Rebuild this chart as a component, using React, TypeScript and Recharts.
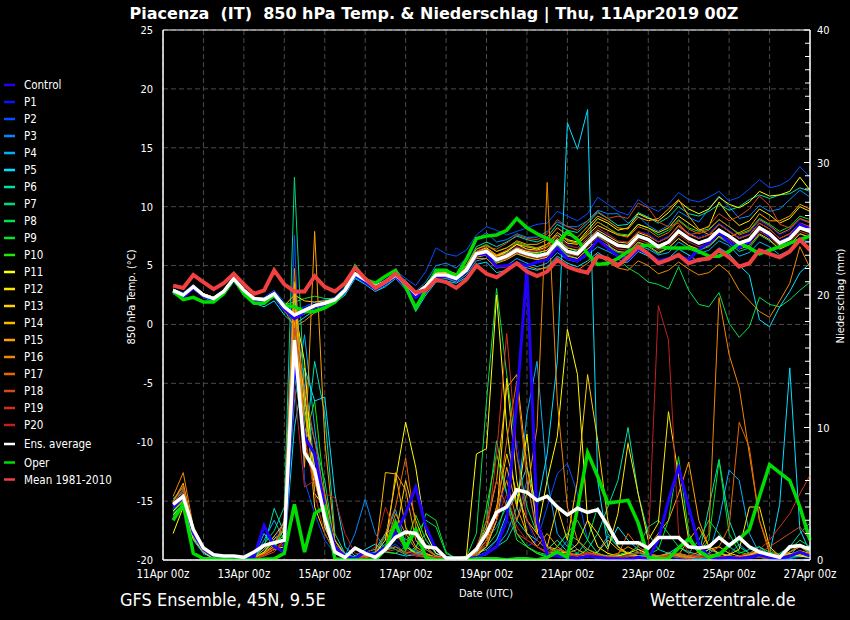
import React from 'react';
import { LineChart, Line, XAxis, YAxis, CartesianGrid, ReferenceArea } from 'recharts';

// 6-hourly steps from 11Apr 06z to 27Apr 00z (hours since 11Apr 00z)
const HOURS: number[] = Array.from({ length: 64 }, (_, i) => (i + 1) * 6);
const X_TICKS = [0, 24, 48, 72, 96, 120, 144, 168, 192, 216, 240, 264, 288, 312, 336, 360, 384];
const X_LABELS = ['11Apr 00z', '13Apr 00z', '15Apr 00z', '17Apr 00z', '19Apr 00z', '21Apr 00z', '23Apr 00z', '25Apr 00z', '27Apr 00z'];
const T_TICKS = [-20, -15, -10, -5, 0, 5, 10, 15, 20, 25];
const P_TICKS = Array.from({ length: 41 }, (_, i) => i);

// ---------- 850 hPa temperature (°C) ----------
const tMean = [3.3,3.1,4.2,3.6, 3.0,3.5,4.3,3.4, 2.6,2.9,4.6,3.4, 2.8,2.8,4.1,3.2, 2.8,3.5,4.8,3.9, 3.1,3.6,4.3,3.5, 2.7,2.9,3.8,3.6, 3.1,3.8,5.0,4.3, 4.0,4.6,5.2,4.5, 4.1,4.5,5.5,4.9, 4.6,4.4,5.8,5.6, 5.0,5.7,6.6,6.0, 5.2,5.5,5.9,5.2, 5.5,5.6,6.3,5.7, 4.9,5.2,6.3,6.0, 5.7,6.2,7.2,6.3];
const tAvg = [2.9,2.5,3.2,2.5, 2.2,2.8,3.9,2.9, 2.2,2.1,2.6,1.5, 0.8,1.2,1.6,1.8, 2.1,2.9,4.3,3.8, 3.2,3.6,4.2,3.5, 2.6,3.2,4.2,4.2, 3.9,4.6,6.0,6.2, 5.5,5.8,6.3,6.0, 5.8,6.0,7.0,6.2, 6.0,6.9,7.7,7.2, 6.7,6.6,7.5,7.2, 6.6,7.0,7.9,7.3, 6.9,7.2,8.0,7.5, 6.9,7.2,8.2,7.7, 6.9,7.3,8.2,7.9];
const tOper = [2.8,2.1,2.3,1.9, 1.9,2.6,3.9,2.6, 1.8,1.8,2.5,1.6, 1.5,1.1,1.1,1.4, 1.9,2.9,4.9,3.8, 3.5,4.1,4.6,3.2, 1.4,2.9,4.6,4.6, 4.1,5.5,7.3,7.5, 7.6,8.0,9.0,8.2, 7.7,7.3,6.8,7.9, 7.2,6.0,5.1,5.2, 5.6,6.2,6.6,6.75, 6.6,6.5,6.5,6.5, 6.2,5.8,5.8,6.2, 6.9,6.5,6.0,6.3, 6.6,6.9,7.2,7.5];
const tControl = [2.7,2.3,3.1,2.4, 2.1,2.7,3.8,2.7, 2.0,1.9,2.5,1.3, 0.5,1.0,1.5,1.7, 2.0,2.8,4.2,3.6, 3.0,3.5,4.1,3.2, 2.3,3.0,4.0,4.1, 3.8,4.5,5.9,6.0, 4.9,5.0,5.2,5.0, 5.3,5.5,6.5,5.6, 5.4,6.0,7.2,6.5, 5.8,5.5,6.4,6.0, 5.4,5.6,5.8,5.5, 6.4,6.9,7.8,7.0, 6.5,7.0,8.2,7.5, 7.0,7.4,8.5,8.1];
const tP1 = [3.0,2.6,3.3,2.6, 2.3,2.9,4.0,3.0, 2.3,2.2,2.8,1.7, 1.0,1.4,1.9,2.0, 2.2,3.0,4.4,3.9, 3.3,3.7,4.3,3.6, 2.7,3.3,4.4,4.5, 4.2,4.9,6.2,6.4, 5.8,6.1,6.6,6.4, 6.2,6.5,7.4,6.8, 6.5,7.2,8.0,7.6, 7.0,7.0,7.9,7.7, 7.1,7.5,8.3,7.8, 7.4,7.8,8.6,8.0, 7.4,7.7,8.8,8.3, 7.6,8.0,8.9,8.6];
const tP2 = [3.0,2.7,3.4,2.6, 2.3,2.9,4.1,3.0, 2.2,2.3,2.9,1.9, 1.2,1.5,1.9,2.1, 2.3,3.2,4.6,4.0, 3.4,4.0,4.6,3.9, 3.3,4.5,6.5,6.0, 5.8,6.3,7.6,8.3, 8.0,7.6,7.9,8.2, 8.5,8.6,9.6,9.2, 8.8,9.4,10.8,10.2, 9.6,9.3,10.6,10.0, 9.6,10.2,11.2,10.6, 10.4,10.8,11.3,10.5, 10.8,11.5,12.3,11.6, 11.8,12.3,13.4,12.5];
const tP3 = [2.8,2.5,3.3,2.6, 2.3,2.9,4.0,2.9, 2.2,2.2,2.7,1.6, 0.9,1.3,1.7,1.9, 2.2,3.0,4.4,3.9, 3.3,3.8,4.4,3.7, 2.8,3.6,5.0,5.2, 4.8,5.6,7.2,7.8, 7.0,7.2,7.7,7.4, 7.4,7.9,8.7,8.3, 8.3,8.8,9.7,9.4, 9.4,8.6,9.2,8.4, 7.9,8.4,9.6,9.1, 8.7,9.8,10.9,10.0, 9.0,9.2,10.1,9.6, 9.8,10.6,11.4,10.8];
const tP4 = [2.8,2.4,3.1,2.4, 2.0,2.6,3.7,2.7, 1.9,1.8,2.3,1.1, 0.4,0.9,1.4,1.6, 1.9,2.6,4.0,3.5, 2.9,3.3,4.0,3.2, 1.6,2.7,3.8,3.9, 3.6,4.2,5.4,5.6, 4.8,5.0,5.6,5.2, 4.9,5.2,6.1,5.5, 5.3,5.9,6.6,6.2, 5.8,5.8,6.7,6.4, 5.9,6.1,7.0,6.5, 6.0,6.3,7.1,6.7, 5.8,6.1,7.0,6.6, 5.9,6.3,7.2,7.0];
const tP5 = [2.6,2.3,3.0,2.3, 1.9,2.5,3.6,2.6, 1.8,1.5,2.0,0.8, 0.0,0.6,1.2,1.5, 1.8,2.5,3.9,3.4, 2.8,3.2,3.9,3.0, 1.1,2.5,3.6,3.7, 3.5,4.0,5.1,5.3, 4.4,4.6,5.1,4.8, 4.6,4.9,5.8,5.2, 4.9,5.4,6.1,5.6, 5.2,5.3,6.2,5.8, 5.1,5.6,6.4,5.9, 5.3,5.7,6.5,6.0, 5.0,4.2,0.4,-0.2, 1.5,2.8,4.4,5.2];
const tP6 = [2.9,2.6,3.3,2.6, 2.3,2.9,4.0,3.0, 2.3,2.2,2.7,1.6, 0.9,1.3,1.7,1.9, 2.2,3.0,4.4,3.9, 3.3,3.7,4.3,3.6, 2.7,3.3,4.5,4.6, 4.3,5.0,6.6,7.0, 6.6,7.0,7.5,7.2, 7.0,7.4,8.5,8.0, 7.8,8.6,9.5,9.0, 8.4,8.5,9.5,9.1, 8.6,9.1,10.0,9.4, 9.2,9.6,10.2,9.7, 10.0,10.6,11.0,10.7, 11.0,11.1,11.6,11.3];
const tP7 = [2.8,2.4,3.1,2.4, 2.1,2.7,3.8,2.8, 2.1,2.0,2.5,1.4, 0.6,1.0,1.5,1.7, 2.0,2.8,4.2,3.7, 3.1,3.5,4.1,3.4, 2.5,3.1,4.1,4.1, 3.8,4.4,5.8,6.0, 5.3,5.6,6.0,5.7, 5.5,5.7,6.7,5.9, 5.6,6.4,7.1,6.6, 6.1,6.0,6.9,6.6, 6.0,6.5,7.3,6.7, 6.3,6.6,7.4,6.9, 6.2,6.5,7.6,7.1, 6.4,6.8,7.7,7.4];
const tP8 = [2.9,2.5,3.2,2.5, 2.2,2.8,3.9,2.9, 2.2,2.1,2.6,1.5, 0.8,1.2,1.6,1.8, 2.1,2.9,4.3,3.8, 3.2,3.6,4.2,3.5, 2.6,3.2,4.2,4.2, 3.9,4.6,6.0,6.3, 5.8,6.1,6.5,6.2, 6.0,6.3,7.2,6.5, 6.2,6.8,7.5,6.9, 5.6,4.8,4.3,3.6, 3.4,3.0,4.9,2.9, 1.7,1.5,2.7,0.1, -1.1,-0.2,2.3,1.7, 1.5,2.1,2.9,3.6];
const tP9 = [3.0,2.6,3.3,2.6, 2.3,2.9,4.0,3.0, 2.3,2.2,2.7,1.7, 1.9,2.2,2.4,2.2, 2.2,3.0,4.4,3.9, 3.3,3.7,4.3,3.6, 2.7,3.4,4.5,4.5, 4.2,4.9,6.4,6.8, 6.2,6.5,7.0,6.7, 6.5,6.8,7.8,7.1, 6.9,7.8,8.7,8.2, 7.7,7.6,8.5,8.2, 7.6,8.0,8.9,8.2, 7.9,8.1,8.9,8.3, 7.7,8.0,9.0,8.5, 7.9,8.3,9.2,8.9];
const tP10 = [2.9,2.5,3.2,2.5, 2.2,2.8,3.9,2.9, 2.2,2.1,2.6,1.5, 0.8,1.1,1.6,1.8, 2.1,2.9,4.3,3.8, 3.2,3.6,4.2,3.5, 2.6,3.2,4.2,4.2, 3.9,4.6,6.0,6.2, 5.6,5.9,6.4,6.0, 5.9,6.1,7.1,6.3, 6.1,7.0,7.8,7.3, 6.8,6.7,7.6,7.3, 6.7,7.1,8.0,7.4, 7.0,7.3,8.1,7.6, 7.0,7.3,8.3,7.8, 7.0,7.4,8.3,8.0];
const tP11 = [2.9,2.6,3.3,2.6, 2.3,2.9,4.0,3.0, 2.3,2.2,2.7,1.6, 0.9,1.3,1.7,1.9, 2.2,3.0,4.4,3.9, 3.3,3.7,4.3,3.6, 2.7,3.3,4.3,4.4, 4.1,4.8,6.2,6.5, 5.9,6.2,6.8,6.6, 6.4,6.8,7.8,7.2, 7.0,8.0,9.0,8.6, 8.0,8.2,9.4,9.0, 8.8,9.5,10.5,9.8, 9.4,9.8,10.8,10.2, 9.9,10.4,11.3,10.9, 11.0,11.3,12.5,11.4];
const tP12 = [2.8,2.5,3.2,2.5, 2.2,2.8,3.9,2.9, 2.2,2.1,2.6,1.5, 0.8,1.2,1.6,1.8, 2.1,2.9,4.3,3.8, 3.2,3.6,4.2,3.5, 2.6,3.2,4.2,4.2, 3.9,4.6,6.0,6.2, 5.8,6.2,6.8,6.4, 6.3,6.6,7.6,6.9, 6.8,7.6,8.4,8.0, 7.6,7.5,8.5,8.2, 7.8,8.2,9.2,8.6, 8.0,8.3,10.4,9.2, 8.4,8.8,9.8,9.3, 8.6,9.0,10.0,9.6];
const tP13 = [3.0,2.6,3.3,2.6, 2.3,2.9,4.0,3.0, 2.3,2.2,2.7,1.6, 2.5,2.0,1.9,2.0, 2.2,3.0,4.4,3.9, 3.3,3.7,4.3,3.6, 2.7,3.3,4.4,4.4, 4.1,4.8,6.1,6.4, 5.8,6.0,6.5,6.2, 6.1,6.3,7.3,6.5, 6.3,7.2,8.0,7.5, 7.0,6.9,7.8,7.5, 7.0,7.4,8.4,7.7, 7.3,7.6,8.5,7.9, 7.3,7.6,8.6,8.1, 7.3,7.7,8.6,8.3];
const tP14 = [2.8,2.4,3.1,2.4, 2.1,2.7,3.8,2.8, 2.1,2.0,2.5,1.3, 0.5,0.9,1.4,1.7, 2.0,2.8,4.2,3.7, 3.1,3.5,4.1,3.4, 2.5,3.0,4.0,4.0, 3.7,4.4,5.7,5.9, 5.2,5.5,6.0,5.7, 5.5,5.7,6.6,5.8, 5.6,6.4,7.2,6.7, 6.2,6.1,7.0,6.7, 6.1,6.5,7.3,6.7, 6.4,6.7,7.5,7.0, 6.4,6.7,7.7,7.2, 6.4,6.8,7.7,7.4];
const tP15 = [2.9,2.5,3.3,2.6, 2.3,2.9,4.0,3.0, 2.3,2.2,2.7,1.6, 0.7,1.1,1.6,1.8, 2.1,2.9,4.3,3.8, 3.2,3.6,4.3,3.6, 2.7,3.4,4.5,4.6, 4.3,5.0,6.4,6.7, 6.2,6.5,7.1,6.8, 6.8,7.2,8.2,7.6, 7.4,8.3,9.2,8.8, 8.2,8.1,9.1,8.8, 9.0,9.8,10.6,9.2, 8.1,7.6,8.0,7.4, 7.8,8.2,9.4,8.8, 8.8,9.2,10.2,9.8];
const tP16 = [2.8,2.4,3.1,2.4, 2.1,2.7,3.8,2.8, 2.1,2.0,2.5,1.2, -0.2,0.3,1.0,1.4, 2.0,2.8,4.2,3.7, 3.1,3.5,4.1,3.4, 2.5,3.1,4.1,4.1, 3.8,4.5,5.6,5.6, 4.8,4.9,5.3,5.0, 4.7,4.8,5.6,4.9, 4.6,5.2,5.9,5.3, 4.8,4.6,5.4,5.0, 4.3,4.6,5.3,4.7, 4.2,4.4,5.1,4.4, 2.9,2.0,1.1,0.6, 2.0,3.5,6.6,4.8];
const tP17 = [2.9,2.5,3.2,2.5, 2.2,2.8,3.9,2.9, 2.2,2.1,2.6,1.4, 0.6,1.0,1.5,1.7, 2.1,2.9,4.3,3.8, 3.2,3.6,4.2,3.5, 2.6,3.2,4.3,4.3, 4.0,4.7,6.1,6.4, 5.9,6.3,6.9,6.6, 6.5,6.8,7.8,7.1, 6.9,7.8,8.7,8.2, 7.6,7.4,8.3,8.0, 7.4,7.8,8.8,8.1, 7.7,8.0,8.9,8.3, 7.6,7.9,8.9,8.4, 7.7,8.1,9.0,8.7];
const tP18 = [2.9,2.5,3.2,2.5, 2.2,2.8,3.9,2.9, 2.2,2.1,2.6,1.5, 0.8,1.2,1.6,1.8, 2.1,2.9,4.3,3.8, 3.2,3.6,4.2,3.5, 2.6,3.2,4.2,4.3, 4.0,4.7,6.2,6.6, 6.4,6.9,7.6,7.3, 7.2,7.7,8.9,8.3, 8.0,8.8,9.6,9.0, 9.2,9.0,10.3,9.9, 8.7,8.3,8.6,7.6, 7.8,8.4,9.4,8.8, 9.2,9.8,10.9,10.1, 8.5,8.2,9.0,8.6];
const tP19 = [2.8,2.5,3.2,2.5, 2.2,2.8,3.9,2.9, 2.1,2.0,2.5,1.4, 0.7,1.1,1.5,1.7, 2.0,2.8,4.2,3.7, 3.1,3.5,4.1,3.4, 2.5,3.1,4.1,4.1, 3.8,4.5,5.8,6.0, 5.4,5.6,6.1,5.8, 5.6,5.8,6.8,6.0, 5.8,6.6,7.4,6.9, 6.4,6.3,7.2,6.9, 6.3,6.7,7.6,7.0, 6.6,6.9,7.7,7.2, 6.6,6.9,7.9,7.4, 6.6,7.0,7.9,7.6];
const tP20 = [2.9,2.6,3.3,2.6, 2.3,2.9,4.0,3.0, 2.3,2.2,2.7,1.6, 0.9,1.3,1.7,1.9, 2.2,3.0,4.4,3.9, 3.3,3.7,4.3,3.6, 2.7,3.3,4.3,4.3, 4.0,4.7,6.1,6.3, 5.7,6.0,6.6,6.3, 6.2,6.5,7.5,6.7, 6.5,7.4,8.2,7.7, 7.1,7.0,7.9,7.6, 7.0,7.4,8.3,7.6, 7.3,7.6,8.5,7.9, 7.3,7.6,8.6,8.1, 7.3,7.7,8.6,8.3];

// ---------- Niederschlag (mm / 6h) ----------
const pAvg = [4.2,4.8,2.3,0.9, 0.4,0.3,0.3,0.2, 0.6,1.1,1.3,1.5, 16.6,8.1,6.8,3.2, 0.6,0.2,0.9,0.5, 0.2,0.8,1.7,2.1, 2.0,1.0,0.9,0.15, 0.15,0.15,0.8,2.0, 3.6,4.0,5.3,5.1, 4.5,4.8,4.0,3.4, 3.9,3.6,3.8,2.6, 1.3,1.3,1.3,0.9, 1.7,1.7,1.7,1.0, 0.9,1.0,1.7,1.1, 1.7,1.0,0.6,0.4, 0.2,1.0,1.1,0.8];
const pOper = [3.0,4.2,0.5,0.1, 0.1,0.05,0,0, 0,0.05,0.1,0.5, 4.2,0.6,3.5,4.0, 0.1,0,0,0, 0,0.8,2.8,0.9, 2.3,0.2,0,0, 0,0,0.1,0.1, 0.1,0,0.1,0.1, 0,0.2,0.6,0.2, 3.9,8.1,6.3,4.3, 4.4,4.5,2.8,0.2, 0.1,0.1,0.9,1.6, 0.7,0.2,0.4,1.1, 1.6,2.3,4.8,7.2, 6.6,6.0,4.0,1.5];
const pControl = [4.0,4.8,2.0,0.8, 0.3,0.1,0.1,0.1, 0.2,2.6,1.0,0.6, 15.0,9.3,8.0,4.0, 1.0,0.3,0.1,0.6, 0.4,1.0,2.0,3.5, 5.5,2.5,0.8,0.2, 0.1,0.1,0.2,0.5, 1.0,3.0,12.0,22.0, 3.0,0.4,0.3,0.2, 0.1,0.3,0.2,0.1, 0.1,0,0.2,0.1, 1.5,4.5,7.0,4.0, 1.2,0.2,0.1,0.2, 0.1,0.2,0.4,0.2, 0.1,0.3,0.6,0.3];
const pP1 = [4.2,5.0,2.2,0.9, 0.3,0.1,0,0.1, 0.1,0.8,1.5,3.0, 18.0,12.0,6.0,3.0, 1.0,0.2,0.1,0.3, 0.5,1.0,1.5,0.8, 1.5,0.5,0.2,0.1, 0,0.1,0.4,1.0, 3.0,6.0,9.0,3.0, 1.0,0.5,0.3,0.1, 0.2,0.5,0.3,0.1, 0,0.1,0.3,0.2, 0.1,0.2,0.1,0, 0.2,0.5,0.3,0.1, 0,0.1,0.2,0.1, 0,0.1,0.2,0.1];
const pP2 = [4.5,5.3,2.0,0.7, 0.2,0.1,0.1,0, 0.2,0.5,1.0,2.5, 24.5,6.0,3.5,1.5, 0.5,0.2,0.1,0.4, 0.6,0.8,1.2,0.5, 0.8,1.6,0.4,0.1, 0,0.1,0.3,0.6, 1.5,3.0,2.0,1.0, 1.5,4.0,6.5,7.3, 5.0,1.5,0.5,0.2, 0.1,0.2,0.5,0.3, 0.1,0.3,0.2,0.1, 0,0.2,0.1,0, 0.1,0.3,0.2,0.1, 0,0.2,0.4,0.3];
const pP3 = [3.8,4.6,1.8,0.8, 0.2,0.1,0,0, 0.1,0.6,1.8,1.0, 16.0,14.0,7.0,2.5, 0.8,0.3,2.0,4.6, 2.0,0.8,1.0,0.5, 0.7,0.3,0.1,0, 0,0.2,0.6,1.5, 2.5,4.0,3.0,6.0, 2.0,1.0,0.5,1.5, 0.8,0.3,0.1,0.2, 0.3,0.5,0.2,0.1, 0.1,0.6,0.3,0.1, 0,0.1,0.2,0.4, 1.2,0.5,0.2,0.1, 0,0.1,0.3,0.2];
const pP4 = [3.5,4.2,1.7,0.6, 0.2,0,0,0.1, 0.2,1.5,3.0,1.5, 12.0,17.0,10.0,4.0, 1.5,0.5,0.2,0.2, 0.5,1.8,3.8,1.2, 0.5,0.8,0.3,0.1, 0,0.1,0.3,0.5, 1.0,2.0,4.0,11.0, 15.0,6.0,2.0,1.0, 0.5,0.2,0.6,1.8, 1.0,0.4,0.2,0.1, 0.1,0.2,0.5,0.3, 0.2,0.5,3.0,6.8, 6.0,2.0,0.5,0.2, 0.1,0.3,1.2,0.5];
const pP5 = [3.3,4.0,1.5,0.5, 0.1,0,0,0.1, 0.3,2.0,1.0,0.5, 10.0,14.5,12.0,12.3, 5.0,1.0,0.3,0.8, 1.2,0.6,0.5,0.3, 0.4,0.2,0.1,0, 0,0.2,0.5,0.8, 1.5,3.5,5.0,7.0, 4.0,8.0,15.0,33.0, 31.0,34.0,6.0,1.0, 2.5,1.5,0.8,0.5, 0.3,0.5,1.0,0.6, 0.4,0.8,0.5,0.3, 0.2,0.5,1.0,0.4, 4.2,14.5,2.3,0.6];
const pP6 = [4.6,5.5,2.4,1.0, 0.3,0.1,0,0, 0.2,1.0,3.9,2.0, 20.0,8.0,15.0,11.0, 2.0,0.5,0.2,0.6, 0.8,2.0,2.5,1.0, 0.6,0.4,0.2,0.1, 0,0.1,0.2,0.4, 1.0,1.5,3.0,2.0, 1.5,0.8,1.5,0.6, 0.3,0.8,2.0,4.0, 6.0,10.0,5.0,2.0, 0.8,0.5,0.3,0.2, 0.3,4.0,7.6,3.0, 1.0,0.5,0.3,0.2, 0.5,1.0,2.0,2.8];
const pP7 = [4.3,5.2,2.1,0.8, 0.2,0.1,0,0, 0.2,1.2,2.2,4.0, 28.9,12.0,9.0,6.0, 1.0,0.3,0.1,0.5, 0.6,1.2,0.8,0.4, 1.0,2.0,0.5,0.2, 0,0.1,0.5,3.0, 9.0,5.0,2.0,1.0, 0.5,0.3,1.0,2.0, 1.5,0.6,0.3,0.2, 0.2,0.4,0.6,0.3, 0.2,0.3,0.2,0.1, 0.1,0.2,0.6,0.3, 0.2,0.4,0.8,0.5, 0.3,0.6,1.0,0.6];
const pP8 = [4.0,4.9,2.0,0.8, 0.2,0.1,0,0, 0.1,0.5,1.0,2.0, 17.0,10.0,8.0,4.0, 1.0,0.2,0.1,0.4, 0.6,0.8,2.5,1.5, 2.0,3.0,2.5,0.5, 0.1,0.2,2.0,12.0, 20.5,14.0,8.0,4.0, 2.0,1.0,0.5,0.3, 0.5,1.5,4.0,2.0, 1.0,0.5,1.0,2.5, 3.0,2.0,1.0,0.5, 1.5,3.0,2.0,1.0, 0.5,0.8,1.0,0.6, 0.4,0.8,1.5,1.0];
const pP9 = [3.6,4.4,1.8,0.7, 0.2,0,0,0, 0.1,0.4,0.8,2.5, 15.0,11.0,7.0,3.5, 0.8,0.2,0.1,0.3, 0.5,0.7,1.0,0.5, 0.8,3.5,3.0,0.6, 0.1,0.2,0.5,1.0, 2.0,4.5,1.5,1.0, 0.6,0.4,1.0,2.0, 3.0,1.5,0.5,0.3, 0.4,0.6,0.3,0.4, 0.8,3.0,7.8,2.0, 0.6,1.5,7.5,2.0, 0.6,0.4,0.2,0.1, 0.1,0.2,0.3,0.2];
const pP10 = [3.9,4.7,1.9,0.7, 0.2,0.1,0,0, 0.2,0.6,1.4,1.8, 14.0,9.0,12.0,5.0, 1.0,0.3,0.1,0.2, 0.4,0.6,0.5,1.0, 3.4,1.5,0.5,0.2, 0,0.1,0.3,4.0, 8.0,5.0,2.0,1.0, 0.5,0.2,0.8,0.5, 0.3,0.8,0.5,0.2, 0.3,0.5,0.2,0.1, 0.2,0.3,0.4,0.3, 0.2,0.4,0.3,0.2, 0.1,0.3,0.5,0.3, 0.2,0.5,0.3,0.2];
const pP11 = [2.0,4.0,2.2,0.9, 0.3,0.1,0,0, 0.1,0.4,0.8,1.0, 19.0,15.0,5.0,4.0, 1.5,0.3,0.1,0.3, 0.5,1.5,6.0,10.4, 7.0,2.0,0.5,0.2, 0.1,0.2,8.0,8.4, 20.0,10.0,4.0,9.5, 2.0,6.0,9.3,17.4, 14.0,3.0,1.0,0.5, 0.3,0.5,0.8,0.4, 0.2,0.5,0.3,0.2, 0.2,0.3,0.5,0.3, 0.2,0.4,0.6,0.3, 0.2,0.3,0.4,0.2];
const pP12 = [3.7,4.5,1.8,0.7, 0.2,0.1,0,0, 0.1,0.5,1.2,1.5, 16.0,13.0,4.0,2.0, 0.6,0.2,0.1,0.3, 0.4,0.9,2.0,1.0, 0.5,0.3,0.2,0.1, 0,0.1,0.3,1.0, 3.0,13.7,6.0,2.0, 1.0,0.6,0.5,0.6, 1.2,3.0,2.0,0.8, 3.5,8.8,5.0,1.5, 2.8,11.2,6.3,1.5, 0.5,0.3,0.2,0.4, 0.8,4.0,4.0,1.0, 0.3,0.5,0.3,0.2];
const pP13 = [3.4,4.2,1.6,0.6, 0.1,0,0,0, 0.1,0.6,1.6,2.2, 21.0,11.5,7.0,2.5, 0.7,0.2,0.1,0.2, 0.3,0.8,1.8,6.0, 3.0,1.0,0.3,0.1, 0,0.2,0.5,1.5, 4.0,8.0,5.0,3.0, 2.0,1.0,4.0,1.5, 6.0,14.0,9.0,3.0, 1.0,0.5,0.3,0.2, 0.3,0.2,0.5,0.3, 0.3,0.8,1.0,0.5, 0.3,0.5,0.6,0.3, 0.2,0.4,0.6,0.4];
const pP14 = [4.4,5.8,2.3,0.9, 0.3,0.1,0,0, 0.2,0.8,1.8,2.8, 20.5,9.0,6.0,3.0, 0.8,0.2,0.1,0.2, 0.4,6.6,6.5,2.5, 1.0,0.5,0.2,0.1, 0.1,0.3,0.8,2.5, 6.0,13.0,14.0,7.0, 3.0,1.0,0.8,0.5, 0.4,0.3,0.6,1.5, 0.8,0.5,0.3,0.2, 0.2,0.3,0.4,1.5, 2.5,1.0,0.5,0.3, 0.2,0.3,0.5,0.4, 0.2,0.4,0.7,0.5];
const pP15 = [4.1,5.0,2.1,0.8, 0.2,0.1,0,0, 0.1,0.5,1.2,1.6, 18.0,7.0,24.8,9.0, 1.5,0.4,0.1,0.3, 0.3,0.6,6.6,5.3, 1.5,0.5,0.2,0.1, 0,0.1,0.4,1.0, 3.0,7.0,4.0,2.0, 1.0,2.0,1.0,0.5, 0.8,0.4,0.3,0.2, 0.2,0.3,0.5,1.0, 2.0,3.0,5.0,7.4, 3.0,1.0,0.5,0.3, 0.2,0.4,0.6,0.3, 0.2,0.4,0.5,0.3];
const pP16 = [4.8,6.6,2.5,1.0, 0.3,0.1,0,0, 0.1,0.5,1.0,3.0, 22.0,10.0,8.0,5.0, 1.2,0.3,0.1,0.4, 0.5,1.0,3.5,2.0, 0.8,0.4,0.2,0.1, 0,0.2,0.5,1.5, 4.0,6.0,3.0,5.0, 10.0,28.5,12.0,4.0, 1.5,0.8,0.4,0.3, 0.5,1.0,0.6,0.4, 0.3,0.5,0.4,0.3, 0.6,2.0,19.8,15.5, 13.0,8.0,3.0,0.5, 0.3,0.6,1.0,0.5];
const pP17 = [4.4,5.6,2.3,0.9, 0.3,0.1,0,0, 0.1,0.4,1.2,2.5, 19.0,8.5,6.0,3.0, 0.8,0.2,0.1,0.2, 0.5,2.0,4.0,7.7, 2.5,0.8,0.3,0.1, 0.1,0.2,0.5,1.2, 3.5,9.0,13.5,6.0, 2.0,1.0,0.6,0.4, 0.3,0.5,0.4,0.2, 0.4,2.0,1.0,0.5, 0.3,0.4,0.3,0.2, 0.3,0.5,1.0,2.5, 10.4,8.5,3.0,0.8, 0.3,0.6,1.2,0.8];
const pP18 = [4.2,5.4,2.2,0.8, 0.2,0.1,0,0, 0.1,0.3,0.6,1.5, 17.5,13.0,9.0,4.5, 1.0,0.3,0.1,0.3, 0.4,0.8,1.0,0.6, 0.5,0.3,0.2,0.1, 0,0.2,1.0,3.0, 6.0,4.0,2.0,1.5, 1.0,0.5,0.8,0.6, 0.3,0.6,0.4,0.2, 0.2,0.3,0.2,0.1, 0.2,0.3,0.5,0.3, 0.2,0.4,0.3,0.2, 0.2,0.3,0.5,1.0, 1.5,2.0,2.5,1.5];
const pP19 = [4.0,5.1,2.0,0.8, 0.2,0.1,0,0, 0.1,0.3,0.8,1.2, 16.5,9.5,5.0,2.0, 0.6,0.2,0.1,0.2, 0.4,0.6,0.8,0.5, 0.3,0.2,0.1,0, 0,0.1,0.4,1.5, 8.0,17.1,8.0,3.0, 1.5,0.8,0.5,0.4, 0.3,0.5,0.3,0.2, 0.2,0.3,0.2,0.1, 0.2,0.3,0.2,0.1, 0.2,0.3,0.2,0.2, 0.3,0.5,0.8,1.5, 2.5,3.5,5.0,6.4];
const pP20 = [3.9,4.8,1.9,0.7, 0.2,0.1,0,0, 0.1,0.4,0.9,1.4, 13.0,5.5,6.0,5.0, 4.7,2.0,0.5,0.4, 1.0,4.0,2.0,0.8, 0.4,0.3,0.2,0.1, 0.1,0.2,0.8,2.0, 3.0,5.0,2.5,1.5, 1.0,0.6,0.4,0.3, 0.3,0.5,0.3,0.2, 0.2,0.4,0.5,1.0, 19.2,16.6,2.0,0.5, 0.3,0.2,0.3,0.2, 0.2,0.3,0.2,0.1, 0.2,0.3,0.5,0.3];

const MEMBERS = [
  { name: 'Control', color: '#2200ff', t: tControl, p: pControl },
  { name: 'P1', color: '#0018ff', t: tP1, p: pP1 },
  { name: 'P2', color: '#0050ff', t: tP2, p: pP2 },
  { name: 'P3', color: '#0088ff', t: tP3, p: pP3 },
  { name: 'P4', color: '#00b0ff', t: tP4, p: pP4 },
  { name: 'P5', color: '#00e0ff', t: tP5, p: pP5 },
  { name: 'P6', color: '#00e0a8', t: tP6, p: pP6 },
  { name: 'P7', color: '#00d880', t: tP7, p: pP7 },
  { name: 'P8', color: '#00e050', t: tP8, p: pP8 },
  { name: 'P9', color: '#00e828', t: tP9, p: pP9 },
  { name: 'P10', color: '#20e800', t: tP10, p: pP10 },
  { name: 'P11', color: '#ffff00', t: tP11, p: pP11 },
  { name: 'P12', color: '#ffe800', t: tP12, p: pP12 },
  { name: 'P13', color: '#ffd000', t: tP13, p: pP13 },
  { name: 'P14', color: '#ffb800', t: tP14, p: pP14 },
  { name: 'P15', color: '#ffa000', t: tP15, p: pP15 },
  { name: 'P16', color: '#f08800', t: tP16, p: pP16 },
  { name: 'P17', color: '#e86800', t: tP17, p: pP17 },
  { name: 'P18', color: '#d84820', t: tP18, p: pP18 },
  { name: 'P19', color: '#d03020', t: tP19, p: pP19 },
  { name: 'P20', color: '#c02020', t: tP20, p: pP20 },
];
const AVG_COLOR = '#ffffff';
const OPER_COLOR = '#00dd00';
const MEAN_COLOR = '#f04040';

const data = HOURS.map((h, i) => {
  const row: Record<string, number> = { h };
  MEMBERS.forEach((m, k) => {
    row['t' + k] = m.t[i];
    row['p' + k] = m.p[i];
  });
  row.tAvg = tAvg[i];
  row.pAvg = pAvg[i];
  row.tOper = tOper[i];
  row.pOper = pOper[i];
  row.tMean = tMean[i];
  return row;
});

const FONT = "'DejaVu Sans Condensed', 'DejaVu Sans', sans-serif";

const RightTick = (props: any) => {
  const { x, y, payload } = props;
  const v = payload.value;
  const major = v % 10 === 0;
  return (
    <g>
      <line x1={x - (major ? 6 : 5)} x2={x} y1={y} y2={y} stroke="#ffffff" strokeWidth={1} />
      {major && (
        <text x={x + 7} y={y + 4} fill="#ffffff" fontSize={11} fontFamily={FONT} style={{ fontStretch: 'condensed' }}>
          {v}
        </text>
      )}
    </g>
  );
};

const xFmt = (v: number) => (v % 48 === 0 ? X_LABELS[v / 48] : '');

const LEGEND = [
  ...MEMBERS.map((m) => ({ name: m.name, color: m.color })),
  { name: 'Ens. average', color: AVG_COLOR },
  { name: 'Oper', color: OPER_COLOR },
  { name: 'Mean 1981-2010', color: MEAN_COLOR },
];

export default function App() {
  const lines: React.ReactNode[] = [];
  MEMBERS.forEach((m, k) => {
    if (k === 0) return;
    lines.push(
      <Line key={'p' + k} yAxisId="r" dataKey={'p' + k} stroke={m.color} strokeWidth={1} dot={false} isAnimationActive={false} type="linear" />
    );
    lines.push(
      <Line key={'t' + k} yAxisId="l" dataKey={'t' + k} stroke={m.color} strokeWidth={1} dot={false} isAnimationActive={false} type="linear" />
    );
  });
  lines.push(<Line key="p0" yAxisId="r" dataKey="p0" stroke={MEMBERS[0].color} strokeWidth={3} dot={false} isAnimationActive={false} type="linear" />);
  lines.push(<Line key="t0" yAxisId="l" dataKey="t0" stroke={MEMBERS[0].color} strokeWidth={3} dot={false} isAnimationActive={false} type="linear" />);
  lines.push(<Line key="pOper" yAxisId="r" dataKey="pOper" stroke={OPER_COLOR} strokeWidth={3.5} dot={false} isAnimationActive={false} type="linear" />);
  lines.push(<Line key="tOper" yAxisId="l" dataKey="tOper" stroke={OPER_COLOR} strokeWidth={3.5} dot={false} isAnimationActive={false} type="linear" />);
  lines.push(<Line key="pAvg" yAxisId="r" dataKey="pAvg" stroke={AVG_COLOR} strokeWidth={3.5} dot={false} isAnimationActive={false} type="linear" />);
  lines.push(<Line key="tAvg" yAxisId="l" dataKey="tAvg" stroke={AVG_COLOR} strokeWidth={3.5} dot={false} isAnimationActive={false} type="linear" />);
  lines.push(<Line key="tMean" yAxisId="l" dataKey="tMean" stroke={MEAN_COLOR} strokeWidth={4} dot={false} isAnimationActive={false} type="linear" />);

  return (
    <div style={{ position: 'absolute', left: 0, top: 0, width: 850, height: 620, background: '#000', overflow: 'hidden' }}>
      <LineChart width={850} height={620} data={data} margin={{ top: 30, right: 0, bottom: 0, left: 0 }} style={{ fontFamily: FONT }}>
        <CartesianGrid yAxisId="l" stroke="#4a4a4a" strokeDasharray="5 3" />
        <XAxis
          dataKey="h"
          type="number"
          domain={[0, 384]}
          ticks={X_TICKS}
          interval={0}
          tickFormatter={xFmt}
          tickLine={false}
          axisLine={{ stroke: '#ffffff' }}
          tick={{ fill: '#ffffff', fontSize: 11.5, fontFamily: FONT }}
          tickMargin={4}
          height={60}
        />
        <YAxis
          yAxisId="l"
          orientation="left"
          domain={[-20, 25]}
          ticks={T_TICKS}
          interval={0}
          tickLine={false}
          axisLine={{ stroke: '#ffffff' }}
          tick={{ fill: '#ffffff', fontSize: 11, fontFamily: FONT }}
          tickMargin={4}
          width={163}
          allowDataOverflow
        />
        <YAxis
          yAxisId="r"
          orientation="right"
          domain={[0, 40]}
          ticks={P_TICKS}
          interval={0}
          tickLine={false}
          tickSize={0}
          tickMargin={0}
          axisLine={{ stroke: '#ffffff' }}
          tick={<RightTick />}
          width={40}
          allowDataOverflow
        />
        {lines}
        <ReferenceArea yAxisId="l" x1={0} x2={384} y1={-20} y2={25} fill="none" stroke="#ffffff" strokeWidth={1} ifOverflow="visible" />
      </LineChart>
      <svg width={850} height={620} style={{ position: 'absolute', left: 0, top: 0, pointerEvents: 'none' }}>
        <text x={434} y={19} fill="#ffffff" fontSize={16} fontWeight="bold" fontFamily="'DejaVu Sans', sans-serif" textAnchor="middle" style={{ whiteSpace: 'pre' }}>
          {'Piacenza  (IT)  850 hPa Temp. & Niederschlag | Thu, 11Apr2019 00Z'}
        </text>
        {LEGEND.map((it, k) => {
          const y = k <= 20 ? 85 + k * 17 : k === 21 ? 444 : k === 22 ? 462.5 : 479.5;
          return (
            <g key={it.name}>
              <line x1={4} x2={15} y1={y} y2={y} stroke={it.color} strokeWidth={2.5} />
              <text x={24} y={y + 4} fill="#ffffff" fontSize={11.5} fontFamily={FONT} style={{ fontStretch: 'condensed' }}>
                {it.name}
              </text>
            </g>
          );
        })}
        <text x={0} y={0} transform="translate(135,297) rotate(-90)" fill="#ffffff" fontSize={11} fontFamily={FONT} textAnchor="middle" style={{ fontStretch: 'condensed' }}>
          850 hPa Temp. (°C)
        </text>
        <text x={0} y={0} transform="translate(844,296) rotate(-90)" fill="#ffffff" fontSize={11} fontFamily={FONT} textAnchor="middle" style={{ fontStretch: 'condensed' }}>
          Niederschlag (mm)
        </text>
        <text x={486} y={597} fill="#ffffff" fontSize={11} fontFamily={FONT} textAnchor="middle" style={{ fontStretch: 'condensed' }}>
          Date (UTC)
        </text>
        <text x={120} y={606} fill="#ffffff" fontSize={18} fontFamily={FONT} style={{ fontStretch: 'condensed' }}>
          GFS Ensemble, 45N, 9.5E
        </text>
        <text x={650} y={606} fill="#ffffff" fontSize={18} fontFamily={FONT} style={{ fontStretch: 'condensed' }}>
          Wetterzentrale.de
        </text>
      </svg>
    </div>
  );
}
